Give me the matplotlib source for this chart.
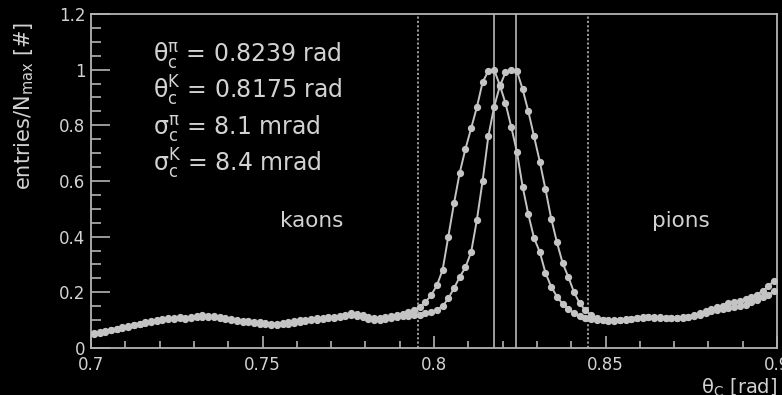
import numpy as np
import matplotlib
matplotlib.use("Agg")
import matplotlib.pyplot as plt
from matplotlib.ticker import MultipleLocator, FixedLocator

plt.rcParams['font.family'] = ['DejaVu Sans']
plt.rcParams['mathtext.fontset'] = 'dejavusans'

# ---------------- data ----------------
theta_range = (0.70, 0.90)
n_bins = 120

kaons = [0.055, 0.058, 0.062, 0.066, 0.070, 0.074, 0.080, 0.084, 0.088, 0.092,
         0.096, 0.100, 0.103, 0.106, 0.108, 0.110, 0.108, 0.112, 0.116, 0.118,
         0.116, 0.114, 0.112, 0.108, 0.104, 0.100, 0.098, 0.096, 0.094, 0.092,
         0.090, 0.088, 0.088, 0.090, 0.093, 0.096, 0.099, 0.102, 0.104, 0.106,
         0.108, 0.110, 0.113, 0.116, 0.120, 0.124, 0.122, 0.118, 0.110, 0.106,
         0.108, 0.112, 0.114, 0.118,
         0.122, 0.128, 0.136, 0.148, 0.165, 0.190, 0.225, 0.28, 0.40, 0.52,
         0.63, 0.715, 0.79, 0.865, 0.955, 0.995, 1.0, 0.945, 0.88, 0.795,
         0.705, 0.58, 0.48, 0.395, 0.345, 0.27, 0.22, 0.185, 0.158, 0.140,
         0.125, 0.115, 0.108, 0.104, 0.100, 0.099,
         0.099, 0.100, 0.101, 0.103, 0.105, 0.107, 0.110, 0.112, 0.111, 0.110,
         0.108, 0.108, 0.108, 0.110, 0.113, 0.118, 0.124, 0.132, 0.140, 0.146,
         0.152, 0.160, 0.166, 0.170, 0.176, 0.184, 0.192, 0.205, 0.222, 0.242]

pions = [0.050, 0.054, 0.058, 0.063, 0.068, 0.072, 0.077, 0.082, 0.086, 0.090,
         0.094, 0.097, 0.100, 0.103, 0.105, 0.106, 0.104, 0.106, 0.110, 0.112,
         0.111, 0.110, 0.108, 0.104, 0.100, 0.097, 0.094, 0.092, 0.090, 0.088,
         0.086, 0.084, 0.083, 0.085, 0.088, 0.091, 0.094, 0.097, 0.100, 0.102,
         0.104, 0.106, 0.108, 0.111, 0.114, 0.117, 0.116, 0.112, 0.104, 0.100,
         0.102, 0.105, 0.108, 0.111,
         0.115, 0.116, 0.118, 0.120, 0.124, 0.130, 0.138, 0.150, 0.178, 0.215,
         0.255, 0.290, 0.345, 0.46, 0.60, 0.76, 0.865, 0.94, 0.99, 1.0,
         0.995, 0.93, 0.85, 0.76, 0.67, 0.57, 0.465, 0.38, 0.305, 0.255,
         0.20, 0.16, 0.135, 0.118, 0.108, 0.102,
         0.098, 0.098, 0.100, 0.102, 0.104, 0.106, 0.108, 0.110, 0.108, 0.108,
         0.106, 0.106, 0.106, 0.108, 0.110, 0.114, 0.120, 0.126, 0.132, 0.136,
         0.140, 0.143, 0.146, 0.150, 0.156, 0.164, 0.172, 0.182, 0.192, 0.205]

theta_pi = 0.8239
theta_K = 0.8175
sigma_pi = 8.1
sigma_K = 8.4
window_lines = [0.7953, 0.8449]

x_ticks = [0.70, 0.75, 0.80, 0.85, 0.90]
x_ticklabels = ["0.7", "0.75", "0.8", "0.85", "0.9"]
y_ticks = [0, 0.2, 0.4, 0.6, 0.8, 1.0, 1.2]
y_ticklabels = ["0", "0.2", "0.4", "0.6", "0.8", "1", "1.2"]

# ---------------- plot ----------------
edges = np.linspace(theta_range[0], theta_range[1], n_bins + 1)
centers = 0.5 * (edges[:-1] + edges[1:])

fg = '#d2d2d2'
curve = '#c4c4c4'
frame = '#b4b4b4'

fig = plt.figure(figsize=(7.82, 3.95), dpi=100, facecolor='black')
ax = fig.add_axes([0.1164, 0.1190, 0.8772, 0.8456], facecolor='black')

for vals in (kaons, pions):
    ax.plot(centers, vals, color=curve, lw=1.4, marker='o', ms=4.2,
            mec=curve, mfc=curve, zorder=3)

for v in (theta_K, theta_pi):
    ax.axvline(v, color='#b8b8b8', lw=1.2, zorder=2)
for v in window_lines:
    ax.axvline(v, color='#a8a8a8', lw=1.3, ls=(0, (1.2, 1.2)), zorder=2)

ax.set_xlim(*theta_range)
ax.set_ylim(0, 1.2)
ax.xaxis.set_major_locator(FixedLocator(x_ticks))
ax.set_xticklabels(x_ticklabels)
ax.xaxis.set_minor_locator(MultipleLocator(0.01))
ax.yaxis.set_major_locator(FixedLocator(y_ticks))
ax.set_yticklabels(y_ticklabels)
ax.yaxis.set_minor_locator(MultipleLocator(0.05))

for s in ax.spines.values():
    s.set_color(frame)
    s.set_linewidth(1.3)

ax.tick_params(axis='both', which='both', direction='in', colors=frame,
               labelcolor=fg, labelsize=12, width=1.2)
ax.tick_params(axis='x', which='major', length=9, pad=6)
ax.tick_params(axis='x', which='minor', length=5)
ax.tick_params(axis='y', which='major', length=14, pad=4)
ax.tick_params(axis='y', which='minor', length=7)

ax.set_ylabel(r'entries/N$_{\mathrm{max}}$ [#]', color=fg, fontsize=15)
ax.yaxis.set_label_coords(-0.08, 0.725)
ax.set_xlabel(r'$\mathrm{\theta}_{\mathrm{C}}$ [rad]', color=fg, fontsize=14,
              labelpad=0)
ax.xaxis.set_label_coords(1.0, -0.085)
ax.xaxis.label.set_horizontalalignment('right')
ax.xaxis.label.set_verticalalignment('top')

stats = [
    r'$\mathrm{\theta}_{\mathrm{c}}^{\mathrm{\pi}}$' + f' = {theta_pi:.4f} rad',
    r'$\mathrm{\theta}_{\mathrm{c}}^{\mathrm{K}}$' + f' = {theta_K:.4f} rad',
    r'$\mathrm{\sigma}_{\mathrm{c}}^{\mathrm{\pi}}$' + f' = {sigma_pi:.1f} mrad',
    r'$\mathrm{\sigma}_{\mathrm{c}}^{\mathrm{K}}$' + f' = {sigma_K:.1f} mrad',
]
for i, t in enumerate(stats):
    ax.text(0.7181, 1.027 - i * 0.131, t, color=fg, fontsize=17,
            ha='left', va='baseline')

ax.text(0.7644, 0.436, 'kaons', color=fg, fontsize=15.5, ha='center', va='baseline')
ax.text(0.872, 0.436, 'pions', color=fg, fontsize=15.5, ha='center', va='baseline')

fig.savefig('out.png', dpi=100, facecolor='black')
